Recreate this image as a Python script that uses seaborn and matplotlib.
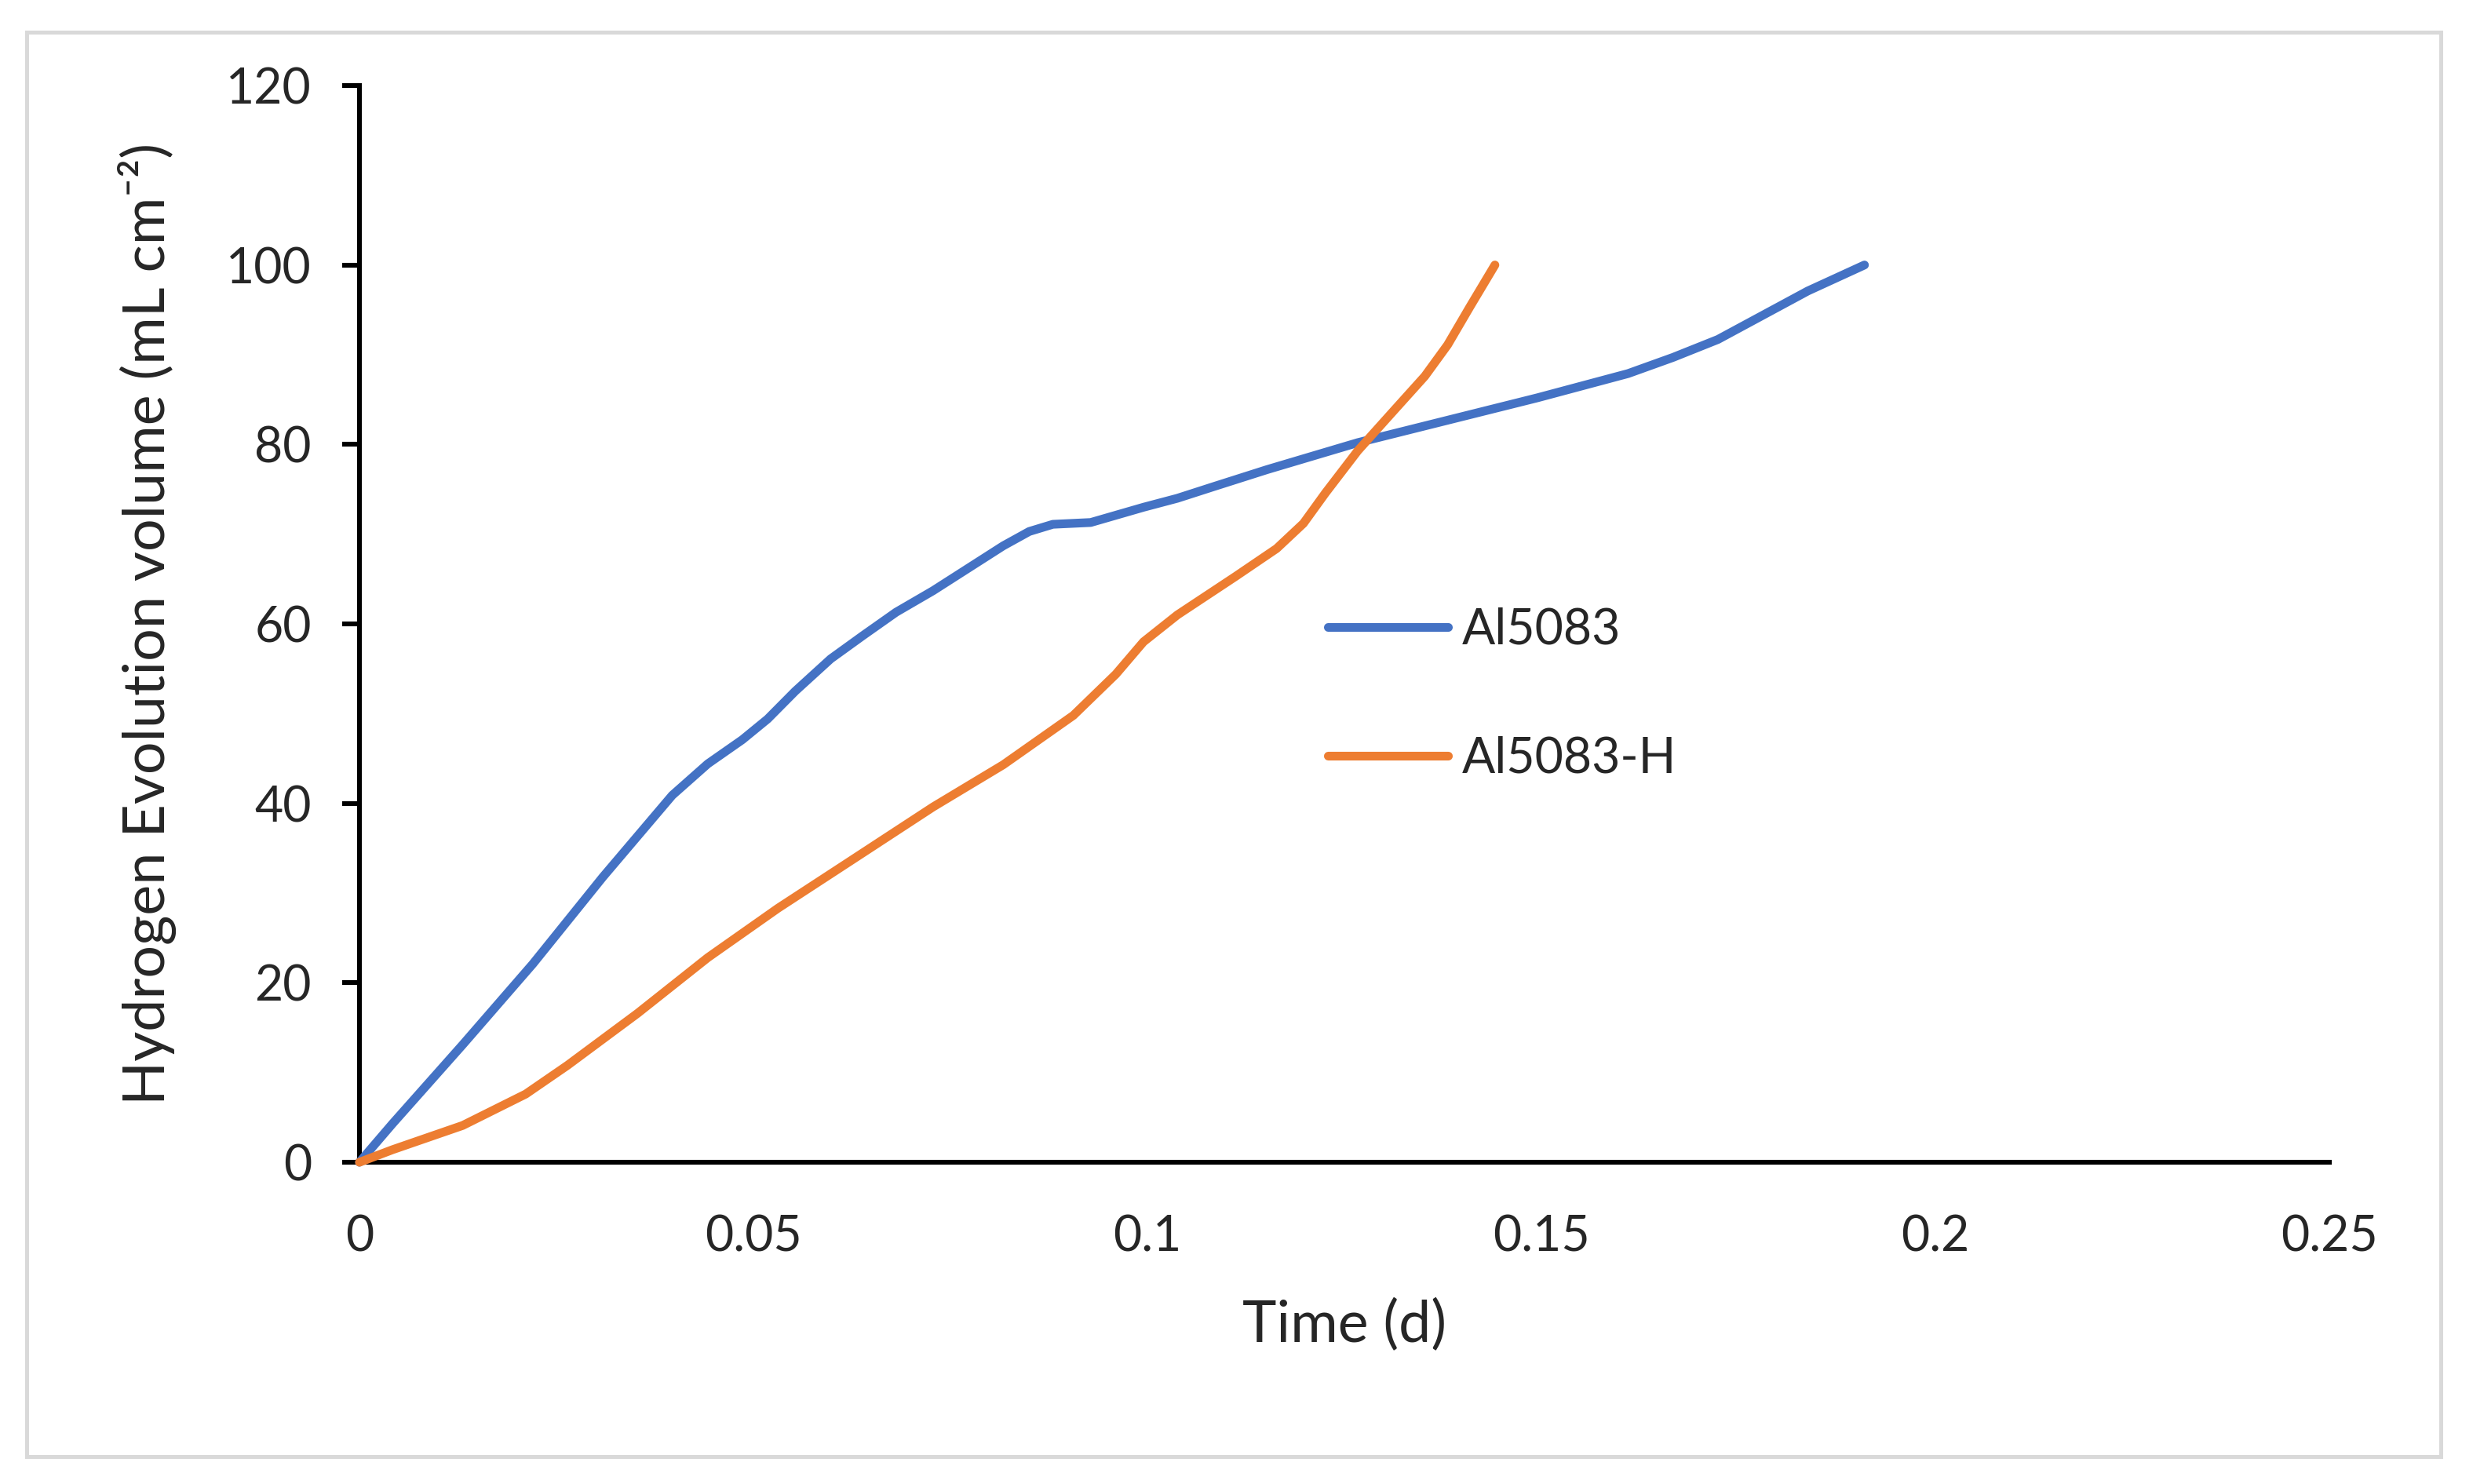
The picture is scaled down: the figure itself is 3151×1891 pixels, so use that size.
import numpy as np
import pandas as pd
import matplotlib
matplotlib.use('Agg')
import matplotlib.pyplot as plt
from matplotlib.patches import Rectangle
import seaborn as sns

# values
series_names = ['Al5083', 'Al5083-H']

al5083_time = [0, 0.0042, 0.0131, 0.0220, 0.0309, 0.0397, 0.0442, 0.0486, 0.0518,
               0.0553, 0.0598, 0.0639, 0.0681, 0.0728, 0.0817, 0.0850, 0.0880,
               0.0928, 0.0995, 0.1038, 0.1084, 0.1152, 0.1267, 0.1381, 0.1495,
               0.1610, 0.1667, 0.1724, 0.1781, 0.1838, 0.1910]
al5083_vol = [0, 4.3, 13.1, 22.1, 31.8, 40.9, 44.4, 47.1, 49.4,
              52.5, 56.1, 58.7, 61.3, 63.7, 68.7, 70.3, 71.1,
              71.3, 73.0, 74.0, 75.3, 77.2, 80.2, 82.7, 85.2,
              87.9, 89.7, 91.7, 94.4, 97.1, 100.0]

al5083h_time = [0, 0.0042, 0.0131, 0.0211, 0.0264, 0.0353, 0.0442, 0.0531, 0.0620,
                0.0728, 0.0817, 0.0906, 0.0960, 0.0995, 0.1038, 0.1112, 0.1164,
                0.1198, 0.1226, 0.1267, 0.1312, 0.1352, 0.1381, 0.1409, 0.1441]
al5083h_vol = [0, 1.4, 4.1, 7.6, 10.8, 16.6, 22.8, 28.3, 33.4,
               39.6, 44.3, 49.8, 54.4, 58.0, 61.0, 65.3, 68.4,
               71.2, 74.6, 79.3, 83.7, 87.6, 91.1, 95.3, 100.0]

x_ticks = [0, 0.05, 0.1, 0.15, 0.2, 0.25]
x_tick_labels = ['0', '0.05', '0.1', '0.15', '0.2', '0.25']
y_ticks = [0, 20, 40, 60, 80, 100, 120]

df = pd.concat([
    pd.DataFrame({'time': al5083_time, 'vol': al5083_vol, 'series': series_names[0]}),
    pd.DataFrame({'time': al5083h_time, 'vol': al5083h_vol, 'series': series_names[1]}),
], ignore_index=True)

sns.set_style('white')
plt.rcParams['font.family'] = ['Lato', 'DejaVu Sans']

W, H, DPI = 3151, 1891, 200
fig = plt.figure(figsize=(W / DPI, H / DPI), dpi=DPI)
ax = fig.add_axes([458 / W, 1 - 1481 / H, (2968 - 458) / W, (1481 - 109) / H])

palette = {'Al5083': '#4472C4', 'Al5083-H': '#ED7D31'}
sns.lineplot(data=df, x='time', y='vol', hue='series', palette=palette,
             estimator=None, linewidth=4, ax=ax)
for line in ax.get_lines():
    line.set_solid_capstyle('round')
    line.set_solid_joinstyle('round')
    line.set_clip_on(False)
    line.set_zorder(3)

ax.set_xlim(0, 0.25)
ax.set_ylim(0, 120)
ax.set_xticks(x_ticks)
ax.set_xticklabels(x_tick_labels)
ax.set_yticks(y_ticks)

for side in ['top', 'right']:
    ax.spines[side].set_visible(False)
for side in ['left', 'bottom']:
    ax.spines[side].set_color('black')
    ax.spines[side].set_linewidth(2.2)
    ax.spines[side].set_zorder(2)

ax.tick_params(axis='y', direction='out', length=8, width=2.2, color='black',
               labelsize=22.5, pad=14, left=True)
ax.tick_params(axis='x', length=0, labelsize=22.5, pad=24, bottom=True)

ax.set_xlabel('Time (d)', fontsize=26.5)
ax.set_ylabel('Hydrogen Evolution volume (mL cm\u207b\u00b2)', fontsize=26.5)
ax.xaxis.set_label_coords(0.5, -0.127)
ax.yaxis.set_label_coords(-0.093, 0.5)

handles, labels = ax.get_legend_handles_labels()
leg = ax.legend(handles, labels, loc='center left',
                bbox_to_anchor=(1692 / W, 1 - 884.5 / H),
                bbox_transform=fig.transFigure, frameon=False, fontsize=22.5,
                handlelength=2.45, handletextpad=0.28, labelspacing=1.7,
                borderpad=0, borderaxespad=0)
for line in leg.get_lines():
    line.set_linewidth(4)
    line.set_solid_capstyle('round')

fig.add_artist(Rectangle((34 / W, 1 - 1856 / H), (3110 - 34) / W, (1856 - 41) / H,
                         transform=fig.transFigure, fill=False,
                         edgecolor='#D9D9D9', linewidth=1.8))

fig.savefig('out.png', dpi=DPI, facecolor='white')
